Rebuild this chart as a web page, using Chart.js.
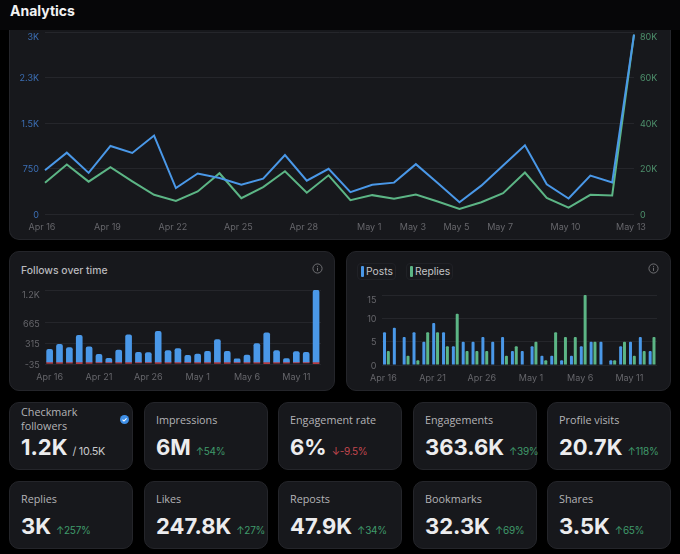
<!DOCTYPE html>
<html>
<head>
<meta charset="utf-8">
<title>Analytics</title>
<script src="https://cdn.jsdelivr.net/npm/chart.js@4/dist/chart.umd.min.js"></script>
<style>
  html, body { margin: 0; padding: 0; background: #000; }
  body { width: 680px; height: 554px; position: relative; overflow: hidden; font-family: Inter, "Noto Sans", sans-serif; }
  #header { position: absolute; left: 0; top: 0; width: 680px; height: 30px; background: #060608; }
  #header h1 { position: absolute; left: 10px; top: 1px; margin: 0; font-size: 14px; line-height: 19px; font-weight: 700; color: #f2f2f3; }
  .card { position: absolute; box-sizing: border-box; background: #17181c; border: 1px solid #24252a; border-radius: 10px; }
  .box { position: absolute; }
  #mainCard { left: 9px; top: 30px; width: 662px; height: 210px; border-top: none; border-radius: 0 0 10px 10px; }
  #followsCard { left: 9px; top: 251px; width: 326px; height: 140px; }
  #postsCard { left: 346px; top: 251px; width: 325px; height: 140px; }
  .chartTitle { position: absolute; left: 11px; top: 11px; font-size: 10.4px; line-height: 15px; font-weight: 500; color: #b9b9bc; }
  .info { position: absolute; top: 11px; width: 11px; height: 11px; }
  .chip { position: absolute; top: 11px; height: 17px; box-sizing: border-box; border: 1px solid #202126; border-radius: 4px; font-size: 10.3px; line-height: 15px; color: #c4c4c7; padding-left: 8px; }
  .chip i { position: absolute; left: 3px; top: 2px; width: 3px; height: 11px; border-radius: 1px; }
  .stat { width: 124px; height: 68px; background: #17181c; }
  .stat .label { position: absolute; left: 11px; top: 9px; font: 400 10.8px/15px "Open Sans", sans-serif; color: #b3b3b6; }
  .stat .value { position: absolute; left: 11px; top: 29px; font-size: 22px; line-height: 30px; font-weight: 700; color: #ececee; white-space: nowrap; }
  .stat .change { font-size: 10px; font-weight: 400; margin-left: 5px; letter-spacing: -0.3px; }
  .up { color: #3f9a6b; }
  .down { color: #c2474f; }
  .stat .total { color: #c9c9cc; font-size: 10.8px; }
</style>
</head>
<body>
<div id="header"><h1>Analytics</h1></div>

<div class="card" id="mainCard"></div>
<div class="box" style="left:9px;top:30px;width:662px;height:209px"><canvas id="mainChart"></canvas></div>

<div class="card" id="followsCard">
  <div class="chartTitle">Follows over time</div>
  <svg class="info" style="left:302px" viewBox="0 0 12 12"><circle cx="6" cy="6" r="5" fill="none" stroke="#77777b"/><path d="M6 5.2v3.4M6 3.2v1" stroke="#77777b"/></svg>
</div>
<div class="box" style="left:9px;top:285px;width:326px;height:105px"><canvas id="followsChart"></canvas></div>

<div class="card" id="postsCard">
  <div class="chip" style="left:10px;width:39px"><i style="background:#4a98e8"></i>Posts</div>
  <div class="chip" style="left:59px;width:47px"><i style="background:#5cb585"></i>Replies</div>
  <svg class="info" style="left:301px" viewBox="0 0 12 12"><circle cx="6" cy="6" r="5" fill="none" stroke="#77777b"/><path d="M6 5.2v3.4M6 3.2v1" stroke="#77777b"/></svg>
</div>
<div class="box" style="left:346px;top:290px;width:325px;height:100px"><canvas id="postsChart"></canvas></div>

<div id="stats"></div>

<script>
const days = ['Apr 16','Apr 17','Apr 18','Apr 19','Apr 20','Apr 21','Apr 22','Apr 23','Apr 24','Apr 25','Apr 26','Apr 27','Apr 28','Apr 29','Apr 30','May 1','May 2','May 3','May 4','May 5','May 6','May 7','May 8','May 9','May 10','May 11','May 12','May 13'];
const mainDayLabels = ['Apr 16','Apr 19','Apr 22','Apr 25','Apr 28','May 1','May 3','May 5','May 7','May 10','May 13'];
const smallDayLabels = ['Apr 16','Apr 21','Apr 26','May 1','May 6','May 11'];

const leftSeries = [722,1011,678,1122,1006,1294,428,667,594,483,583,972,550,744,361,483,517,822,511,194,467,800,1133,489,256,633,522,2956];
const rightSeries = [13770,21770,14220,20590,14370,8440,5780,9920,17920,6960,11850,18810,9330,17030,6070,8290,6670,8590,5480,2220,5180,9180,18220,7110,2810,8440,8150,78800];
const leftTicks = [0,750,1500,2250,3000];
const leftTickLabels = ['0','750','1.5K','2.3K','3K'];
const rightTicks = [0,20000,40000,60000,80000];
const rightTickLabels = ['0','20K','40K','60K','80K'];

const followsGained = [216,301,244,454,256,131,62,204,460,165,159,523,193,227,114,136,182,381,182,51,119,312,494,193,57,176,165,1221];
const followsLost = [-25,-25,-20,-30,-25,-15,-15,-20,-25,-15,-15,-25,-20,-20,-15,-20,-20,-25,-25,-15,-20,-20,-30,-20,-20,-15,-15,-35];
const followsTicks = [-35,315,665,1225];
const followsTickLabels = ['-35','315','665','1.2K'];

const posts = [7,8,6,7,5,9,7,4,5,5,6,5,6,3,3,4,2,2,1,2,4,5,5,1,4,5,6,3];
const replies = [3,0,2,1,7,7,4,11,3,3,3,0,2,4,0,5,1,7,6,6,15,5,0,1,5,2,3,6];
const postsTicks = [0,5,10,15];

const statLabels = ['Checkmark followers','Impressions','Engagement rate','Engagements','Profile visits','Replies','Likes','Reposts','Bookmarks','Shares'];
const statValues = ['1.2K','6M','6%','363.6K','20.7K','3K','247.8K','47.9K','32.3K','3.5K'];
const statChanges = ['/ 10.5K','↑54%','↓-9.5%','↑39%','↑118%','↑257%','↑27%','↑34%','↑69%','↑65%'];

const blue = '#4a98e8';
const green = '#5cb585';
const grid = '#25262b';
const gray = '#66666b';
const tickFont = { family: 'Inter', size: 9 };

// the top label sits a little under its grid line, an empty first row pushes it down
function topLabel(text) {
    return ['', text];
}

function fixedTicks(values) {
    return function (scale) {
        scale.ticks = values.map(function (v) { return { value: v }; });
    };
}

function dayTicks(shown, offset) {
    return {
        color: gray, font: tickFont, padding: 8, maxRotation: 0, autoSkip: false, labelOffset: offset,
        callback: function (value) {
            const name = days[value];
            return shown.includes(name) ? name : '';
        }
    };
}

function valueTicks(values, labels, color, padding) {
    return {
        color: color, padding: padding, labelOffset: 1,
        font: function (ctx) {
            const last = ctx.index === values.length - 1;
            return { family: 'Inter', size: 9, lineHeight: last ? 0.85 : 1.2 };
        },
        callback: function (value) {
            const i = values.indexOf(value);
            return i === values.length - 1 ? topLabel(labels[i]) : labels[i];
        }
    };
}

// fixed axis width, and no extra room for the labels above and below the plot
function fitAxis(width) {
    return function (scale) {
        scale.width = width;
        scale.paddingTop = 0;
        scale.paddingBottom = 0;
    };
}

function fitDays(height) {
    return function (scale) {
        scale.height = height;
        scale.paddingLeft = 0;
        scale.paddingRight = 0;
    };
}

new Chart(document.getElementById('mainChart').getContext('2d'), {
    type: 'line',
    data: {
        labels: days,
        datasets: [{
            label: 'Left',
            data: leftSeries,
            borderColor: blue,
            borderWidth: 2,
            pointRadius: 0,
            tension: 0,
            yAxisID: 'y'
        }, {
            label: 'Right',
            data: rightSeries,
            borderColor: green,
            borderWidth: 2,
            pointRadius: 0,
            tension: 0,
            yAxisID: 'y1'
        }]
    },
    options: {
        responsive: true,
        maintainAspectRatio: false,
        animation: false,
        layout: { padding: { top: 2 } },
        plugins: { legend: { display: false }, tooltip: { enabled: false } },
        scales: {
            x: {
                grid: { display: false, drawTicks: false },
                border: { display: false },
                ticks: dayTicks(mainDayLabels, -3),
                afterFit: fitDays(25)
            },
            y: {
                min: 0, max: 3000,
                grid: { color: grid, drawTicks: false },
                border: { display: false },
                afterBuildTicks: fixedTicks(leftTicks),
                ticks: valueTicks(leftTicks, leftTickLabels, '#3c6fb5', 6),
                afterFit: fitAxis(36)
            },
            y1: {
                position: 'right',
                min: 0, max: 80000,
                grid: { display: false, drawTicks: false },
                border: { display: false },
                afterBuildTicks: fixedTicks(rightTicks),
                ticks: valueTicks(rightTicks, rightTickLabels, '#4d8f6b', 6),
                afterFit: fitAxis(37)
            }
        }
    }
});

new Chart(document.getElementById('followsChart').getContext('2d'), {
    type: 'bar',
    data: {
        labels: days,
        datasets: [{
            label: 'Gained',
            data: followsGained,
            backgroundColor: blue,
            barThickness: 6,
            borderRadius: 2,
            borderSkipped: 'bottom'
        }, {
            label: 'Lost',
            data: followsLost,
            backgroundColor: '#b53a40',
            barThickness: 6
        }]
    },
    options: {
        responsive: true,
        maintainAspectRatio: false,
        animation: false,
        layout: { padding: { top: 5, right: 14 } },
        plugins: { legend: { display: false }, tooltip: { enabled: false } },
        scales: {
            x: {
                stacked: true,
                grid: { display: false, drawTicks: false },
                border: { display: false },
                ticks: dayTicks(smallDayLabels, 0),
                afterFit: fitDays(26)
            },
            y: {
                stacked: true,
                min: -35, max: 1225,
                grid: { color: grid, drawTicks: false },
                border: { display: false },
                afterBuildTicks: fixedTicks(followsTicks),
                ticks: valueTicks(followsTicks, followsTickLabels, gray, 5),
                afterFit: fitAxis(35.7)
            }
        }
    }
});

new Chart(document.getElementById('postsChart').getContext('2d'), {
    type: 'bar',
    data: {
        labels: days,
        datasets: [{
            label: 'Posts',
            data: posts,
            backgroundColor: blue,
            categoryPercentage: 0.78,
            barPercentage: 0.78,
            borderRadius: 1
        }, {
            label: 'Replies',
            data: replies,
            backgroundColor: green,
            categoryPercentage: 0.78,
            barPercentage: 0.78,
            borderRadius: 1
        }]
    },
    options: {
        responsive: true,
        maintainAspectRatio: false,
        animation: false,
        layout: { padding: { top: 5, right: 14 } },
        plugins: { legend: { display: false }, tooltip: { enabled: false } },
        scales: {
            x: {
                grid: { display: false, drawTicks: false },
                border: { display: false },
                ticks: dayTicks(smallDayLabels, -3),
                afterFit: fitDays(25)
            },
            y: {
                min: 0, max: 15,
                grid: { color: grid, drawTicks: false },
                border: { display: false },
                afterBuildTicks: fixedTicks(postsTicks),
                ticks: valueTicks(postsTicks, postsTicks.map(String), gray, 5),
                afterFit: fitAxis(35.5)
            }
        }
    }
});

// stat tiles, 5 on each row
const statsBox = document.getElementById('stats');
const tileLeft = [9, 144, 278, 413, 547];
const tileTop = [402, 481];
for (let i = 0; i < statLabels.length; i++) {
    const tile = document.createElement('div');
    tile.className = 'card stat';
    tile.style.left = tileLeft[i % 5] + 'px';
    tile.style.top = tileTop[Math.floor(i / 5)] + 'px';

    const label = document.createElement('div');
    label.className = 'label';
    label.textContent = statLabels[i];
    tile.appendChild(label);

    const value = document.createElement('div');
    value.className = 'value';
    value.textContent = statValues[i];
    const change = document.createElement('span');
    const text = statChanges[i];
    change.className = 'change ' + (text[0] === '↑' ? 'up' : text[0] === '↓' ? 'down' : 'total');
    change.textContent = text;
    value.appendChild(change);
    tile.appendChild(value);

    if (i === 0) {
        label.style.width = '85px';
        label.style.top = '2px';
        label.style.lineHeight = '14px';
        const badge = document.createElementNS('http://www.w3.org/2000/svg', 'svg');
        badge.setAttribute('viewBox', '0 0 10 10');
        badge.setAttribute('style', 'position:absolute;left:110px;top:12px;width:9px;height:9px');
        badge.innerHTML = '<circle cx="5" cy="5" r="5" fill="#3f8fe6"/><path d="M2.8 5.1l1.6 1.6 2.9-3" fill="none" stroke="#fff" stroke-width="1.2"/>';
        tile.appendChild(badge);
    }
    statsBox.appendChild(tile);
}
</script>
</body>
</html>
